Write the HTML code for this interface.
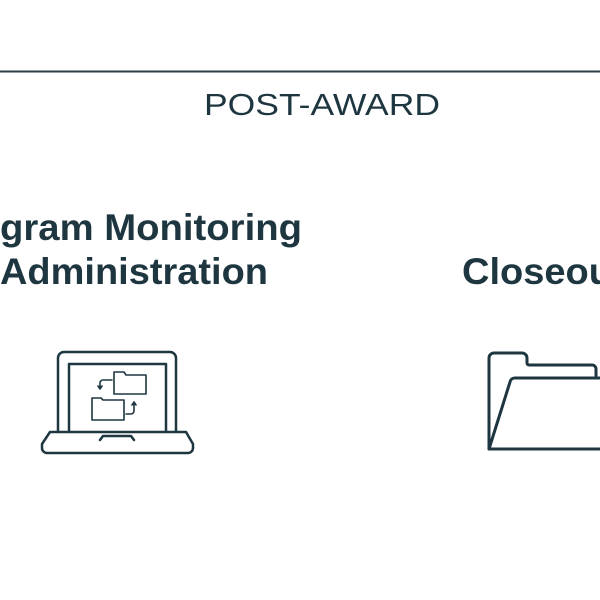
<!DOCTYPE html>
<html><head><style>html,body{margin:0;padding:0;background:#fff;}svg{display:block}</style></head>
<body>
<svg width="600" height="600" viewBox="0 0 600 600" xmlns="http://www.w3.org/2000/svg">
<line x1="0" y1="71.5" x2="600" y2="71.5" stroke="#2a3b44" stroke-width="2"/>
<g fill="#1e3640" font-family="Liberation Sans, sans-serif">
<text x="204" y="115" font-size="31" textLength="236" lengthAdjust="spacingAndGlyphs">POST-AWARD</text>
<text x="0" y="240" font-size="37" font-weight="bold" textLength="302" lengthAdjust="spacingAndGlyphs">gram Monitoring</text>
<text x="0" y="284" font-size="37" font-weight="bold" textLength="268" lengthAdjust="spacingAndGlyphs">Administration</text>
<text x="462" y="284" font-size="37" font-weight="bold" textLength="150" lengthAdjust="spacingAndGlyphs">Closeou</text>
</g>
<g fill="none" stroke="#1e3640" stroke-width="2.5" stroke-linejoin="round" stroke-linecap="round">
<path d="M58 432 V358 a6 6 0 0 1 6 -6 H170 a6 6 0 0 1 6 6 V432"/>
<path d="M69 431 V364 H166 V431"/>
<path d="M50 432 H186 l7 12 v4 a5 5 0 0 1 -5 5 H47 a5 5 0 0 1 -5 -5 v-4 Z"/>
<path d="M100 440 l3 -4 H131 l3 4"/>
<g stroke-width="1.6">
<path d="M114 394 V372 H124 l2 3 H146 V394 Z"/>
<path d="M92 420 V398 H101 l2 2 H124 V420 Z"/>
<path d="M112 380 H103 a3 3 0 0 0 -3 3 V389 M98 386 l2 3 l2 -3"/>
<path d="M126 414 H131 a3 3 0 0 0 3 -3 V403 M132 405 l2 -3 l2 3"/>
</g>
<path d="M489 449 V358 a5 5 0 0 1 5 -5 H522 a5 5 0 0 1 5 5 V363 a2 2 0 0 0 2 2 H592 a4 4 0 0 1 4 4 V376" stroke-width="3"/>
<path d="M489 449 L510 382 a5 5 0 0 1 5 -4 H605 M489 449 H605" stroke-width="3"/>
</g>
</svg>
</body></html>
